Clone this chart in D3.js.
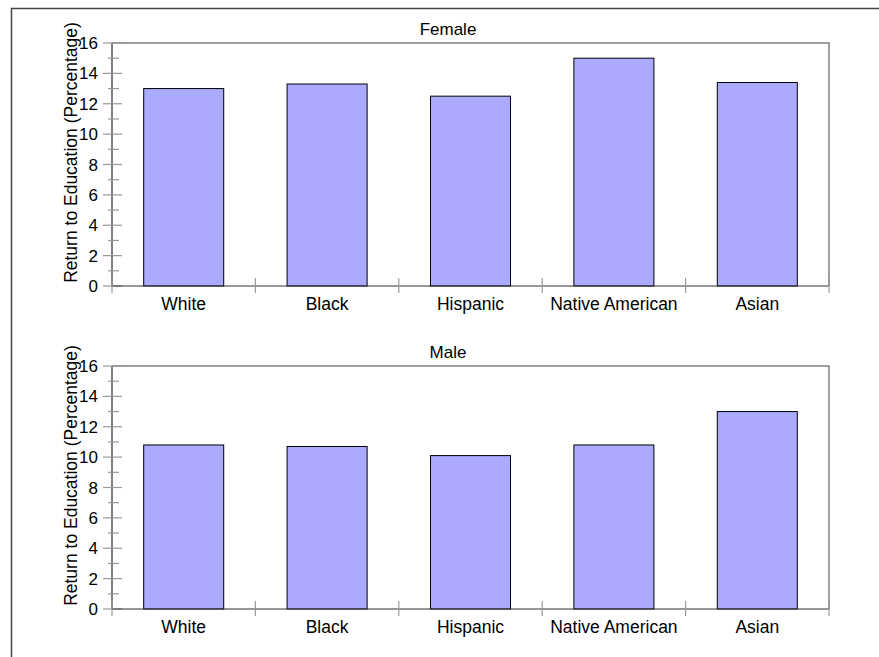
<!DOCTYPE html>
<html>
<head>
<meta charset="utf-8">
<script src="https://cdn.jsdelivr.net/npm/d3@7"></script>
<style>
  html, body { margin: 0; padding: 0; background: #fff; }
  svg { display: block; font-family: "Liberation Sans", Arial, sans-serif; }
</style>
</head>
<body>
<svg id="chart" width="879" height="657"></svg>
<script>
// Return to education by race/ethnicity, split by sex
const categories = ["White", "Black", "Hispanic", "Native American", "Asian"];
const femaleValues = [13.0, 13.3, 12.5, 15.0, 13.4];
const maleValues = [10.8, 10.7, 10.1, 10.8, 13.0];
const yMajorTicks = [0, 2, 4, 6, 8, 10, 12, 14, 16];
const yMinorTicks = [1, 3, 5, 7, 9, 11, 13, 15];
const panelTitles = ["Female", "Male"];
const yAxisTitle = "Return to Education (Percentage)";

const svg = d3.select("#chart");

// outer figure frame
svg.append("rect")
  .attr("x", 11.5).attr("y", 8.5)
  .attr("width", 900).attr("height", 700)
  .attr("fill", "none").attr("stroke", "#444").attr("stroke-width", 1.5);

const plotLeft = 112, plotRight = 829;
const panels = [
  { title: panelTitles[0], values: femaleValues, top: 43, bottom: 286 },
  { title: panelTitles[1], values: maleValues, top: 366, bottom: 609 }
];

const x = d3.scaleBand().domain(categories).range([plotLeft, plotRight]).padding(0);
const barFrac = 0.558;

panels.forEach(p => {
  const g = svg.append("g");
  const y = d3.scaleLinear().domain([0, 16]).range([p.bottom, p.top]);

  // frame top and right
  g.append("path")
    .attr("d", `M${plotLeft},${p.top}H${plotRight}V${p.bottom}`)
    .attr("fill", "none").attr("stroke", "#808080").attr("stroke-width", 1.5);

  // bars
  const bw = x.bandwidth() * barFrac;
  g.selectAll("rect.bar").data(categories.map((c, i) => ({ c, v: p.values[i] })))
    .join("rect")
    .attr("class", "bar")
    .attr("x", d => x(d.c) + (x.bandwidth() - bw) / 2)
    .attr("y", d => y(d.v))
    .attr("width", bw)
    .attr("height", d => y(0) - y(d.v))
    .attr("fill", "#aaaaff")
    .attr("stroke", "#000").attr("stroke-width", 1);

  // y axis line
  g.append("line")
    .attr("x1", plotLeft).attr("x2", plotLeft)
    .attr("y1", p.top).attr("y2", p.bottom)
    .attr("stroke", "#555").attr("stroke-width", 1.5);

  // y ticks crossing the axis
  g.selectAll("line.ymaj").data(yMajorTicks).join("line")
    .attr("x1", plotLeft - 9).attr("x2", plotLeft + 10)
    .attr("y1", d => y(d)).attr("y2", d => y(d))
    .attr("stroke", "#999").attr("stroke-width", 1.2);
  g.selectAll("line.ymin").data(yMinorTicks).join("line")
    .attr("x1", plotLeft - 4).attr("x2", plotLeft + 7)
    .attr("y1", d => y(d)).attr("y2", d => y(d))
    .attr("stroke", "#999").attr("stroke-width", 1.2);
  g.selectAll("text.ylab").data(yMajorTicks).join("text")
    .attr("x", plotLeft - 14).attr("y", d => y(d))
    .attr("dy", "0.36em")
    .attr("text-anchor", "end")
    .attr("font-size", 17).attr("fill", "#000")
    .text(d => d);

  // x axis line
  g.append("line")
    .attr("x1", plotLeft).attr("x2", plotRight)
    .attr("y1", p.bottom).attr("y2", p.bottom)
    .attr("stroke", "#333").attr("stroke-width", 1.2);

  // x ticks at category boundaries
  const bounds = categories.map(c => x(c)).concat([plotRight]);
  g.selectAll("line.xt").data(bounds).join("line")
    .attr("x1", d => d).attr("x2", d => d)
    .attr("y1", p.bottom - 8).attr("y2", p.bottom + 7)
    .attr("stroke", "#999").attr("stroke-width", 1.2);

  g.selectAll("text.xlab").data(categories).join("text")
    .attr("x", d => x(d) + x.bandwidth() / 2)
    .attr("y", p.bottom + 24)
    .attr("text-anchor", "middle")
    .attr("font-size", 17.5).attr("fill", "#000")
    .text(d => d);

  // panel title
  g.append("text")
    .attr("x", 448).attr("y", p.top - 8)
    .attr("text-anchor", "middle")
    .attr("font-size", 17).attr("fill", "#000")
    .text(p.title);

  // y axis title
  const cy = (p.top + p.bottom) / 2 - 12;
  g.append("text")
    .attr("transform", `translate(77,${cy}) rotate(-90)`)
    .attr("text-anchor", "middle")
    .attr("font-size", 17.5).attr("fill", "#000")
    .text(yAxisTitle);
});
</script>
</body>
</html>
